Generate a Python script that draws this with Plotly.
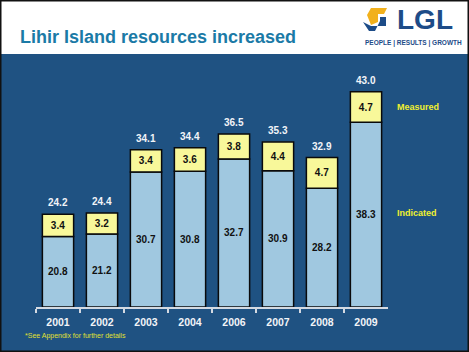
import plotly.graph_objects as go

years = ["2001", "2002", "2003", "2004", "2006", "2007", "2008", "2009"]
indicated = [20.8, 21.2, 30.7, 30.8, 32.7, 30.9, 28.2, 38.3]
measured = [3.4, 3.2, 3.4, 3.6, 3.8, 4.4, 4.7, 4.7]
totals = [24.2, 24.4, 34.1, 34.4, 36.5, 35.3, 32.9, 43.0]

AXIS_FLOOR = 10
W, H = 469, 352
FONT = "Arial, Liberation Sans, sans-serif"

def px(x):
    return x / W

def py(y):
    return 1 - y / H

fig = go.Figure()

fig.add_trace(go.Bar(
    x=years, y=[v - AXIS_FLOOR for v in indicated], base=AXIS_FLOOR,
    text=[f"{v:.1f}" for v in indicated],
    marker=dict(color="#a0c8e0", line=dict(color="#0a0a0a", width=1.5)),
    width=0.71, textposition="inside", insidetextanchor="middle",
    textangle=0, constraintext="none",
    textfont=dict(family=FONT, size=10, color="#111111", weight="bold"),
    hoverinfo="skip", name="Indicated",
))
fig.add_trace(go.Bar(
    x=years, y=measured, base=indicated,
    text=[f"{v:.1f}" for v in measured],
    marker=dict(color="#f8f89a", line=dict(color="#0a0a0a", width=1.5)),
    width=0.71, textposition="inside", insidetextanchor="middle",
    textangle=0, constraintext="none",
    textfont=dict(family=FONT, size=10, color="#111111", weight="bold"),
    hoverinfo="skip", name="Measured",
))

annotations = []
for i, t in enumerate(totals):
    annotations.append(dict(
        x=i, y=t, xref="x", yref="y", text=f"{t:.1f}", showarrow=False,
        yanchor="bottom", yshift=4,
        font=dict(family=FONT, size=10, color="#f2f4f8", weight="bold"),
    ))

# title
annotations.append(dict(
    x=px(18), y=py(37), xref="paper", yref="paper", xanchor="left", yanchor="middle",
    text="Lihir Island resources increased", showarrow=False,
    font=dict(family=FONT, size=18, color="#1b7aa6", weight="bold"),
))
# logo text
annotations.append(dict(
    x=px(425), y=py(20), xref="paper", yref="paper", xanchor="center", yanchor="middle",
    text="LGL", showarrow=False,
    font=dict(family=FONT, size=28, color="#1d4c88", weight="bold"),
))
annotations.append(dict(
    x=px(413), y=py(43), xref="paper", yref="paper", xanchor="center", yanchor="middle",
    text="PEOPLE | RESULTS | GROWTH", showarrow=False,
    font=dict(family=FONT, size=6.5, color="#1d4c88", weight="bold"),
))
# series labels
annotations.append(dict(
    x=px(418), y=py(107), xref="paper", yref="paper", xanchor="center", yanchor="middle",
    text="Measured", showarrow=False,
    font=dict(family=FONT, size=9, color="#f0f030", weight="bold"),
))
annotations.append(dict(
    x=px(417), y=py(213), xref="paper", yref="paper", xanchor="center", yanchor="middle",
    text="Indicated", showarrow=False,
    font=dict(family=FONT, size=9, color="#f0f030", weight="bold"),
))
# footnote
annotations.append(dict(
    x=px(23), y=py(336), xref="paper", yref="paper", xanchor="left", yanchor="middle",
    text="*See Appendix for further details", showarrow=False,
    font=dict(family=FONT, size=7, color="#e0e030"),
))

shapes = [
    # blue background
    dict(type="rect", xref="paper", yref="paper", x0=0, x1=1, y0=0, y1=py(54),
         fillcolor="#1f5282", line=dict(width=0), layer="below"),
    # logo mark: yellow/orange part
    dict(type="path", xref="paper", yref="paper",
         path=(f"M {px(371)},{py(8)} L {px(387)},{py(8)} L {px(384)},{py(14)} "
               f"L {px(378)},{py(14)} L {px(378)},{py(22)} L {px(371)},{py(25)} "
               f"L {px(367)},{py(15)} Z"),
         fillcolor="#f2b11c", line=dict(width=0)),
    # logo mark: blue part
    dict(type="path", xref="paper", yref="paper",
         path=(f"M {px(363)},{py(22)} L {px(371)},{py(26)} L {px(386)},{py(26)} "
               f"L {px(386)},{py(17)} L {px(380)},{py(17)} L {px(380)},{py(21)} "
               f"L {px(375)},{py(31)} L {px(369)},{py(31)} Z"),
         fillcolor="#1d4c88", line=dict(width=0)),
    # frame border
    dict(type="rect", xref="paper", yref="paper", x0=0, x1=1, y0=0, y1=1,
         line=dict(color="#111111", width=3), fillcolor="rgba(0,0,0,0)"),
]

fig.update_layout(
    width=W, height=H,
    margin=dict(l=0, r=0, t=0, b=0),
    paper_bgcolor="#ffffff", plot_bgcolor="rgba(0,0,0,0)",
    barmode="overlay", showlegend=False,
    annotations=annotations, shapes=shapes,
    xaxis=dict(
        domain=[36 / W, 388 / W], type="category",
        categoryorder="array", categoryarray=years,
        range=[-0.5, len(years) - 0.5],
        showline=True, linecolor="#d4dae2", linewidth=1.5,
        ticks="outside", tickson="boundaries", ticklen=4, tickwidth=1.5,
        tickcolor="#d4dae2", showgrid=False, zeroline=False,
        ticklabelstandoff=5,
        tickfont=dict(family=FONT, size=10.5, color="#f2f4f8", weight="bold"),
        fixedrange=True,
    ),
    yaxis=dict(
        domain=[45 / H, 1 - 46 / H], range=[AXIS_FLOOR, 50],
        visible=False, showgrid=False, zeroline=False, fixedrange=True,
    ),
)

fig.write_html("out.html")
